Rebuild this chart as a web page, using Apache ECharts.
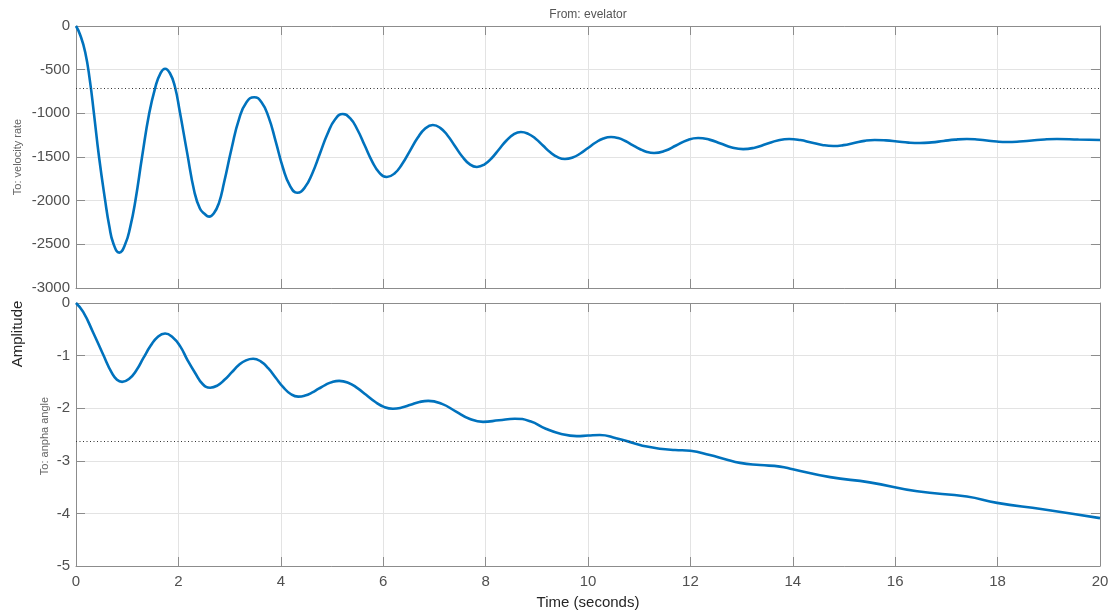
<!DOCTYPE html>
<html>
<head>
<meta charset="utf-8">
<script src="https://cdn.jsdelivr.net/npm/echarts@6/dist/echarts.min.js"></script>
<style>
  html, body {margin: 0; padding: 0; background: #fff;}
  #chart {width: 1113px; height: 613px;}
</style>
</head>
<body>
<div id="chart"></div>
<script>
// step response, input "evelator"
var velocity_rate = [
    [0, 0], [0.08, -100], [0.18, -300], [0.27, -620], [0.35, -1000], [0.45, -1500],
    [0.57, -2000], [0.65, -2290], [0.73, -2490], [0.845, -2595],
    [0.96, -2500], [1.06, -2300], [1.16, -2000], [1.29, -1500], [1.43, -1000], [1.55, -700],
    [1.645, -548], [1.74, -490],
    [1.835, -541], [1.93, -690], [2.027, -980], [2.17, -1450], [2.313, -1900], [2.42, -2090],
    [2.51, -2150], [2.6, -2183],
    [2.69, -2147], [2.79, -2030], [2.893, -1790], [3.04, -1400], [3.187, -1060], [3.333, -870], [3.48, -815],
    [3.62, -870], [3.76, -1040], [3.9, -1320], [4.04, -1620], [4.18, -1830], [4.32, -1910],
    [4.468, -1850], [4.617, -1685], [4.765, -1459], [4.913, -1234], [5.062, -1068], [5.21, -1008],
    [5.353, -1056], [5.497, -1188], [5.64, -1369], [5.783, -1549], [5.927, -1681], [6.07, -1729],
    [6.22, -1689], [6.37, -1580], [6.52, -1432], [6.67, -1283], [6.82, -1174], [6.97, -1134],
    [7.113, -1166], [7.257, -1254], [7.4, -1374], [7.543, -1494], [7.687, -1582], [7.83, -1614],
    [7.973, -1587], [8.117, -1514], [8.26, -1414], [8.403, -1314], [8.547, -1241], [8.69, -1214],
    [8.833, -1235], [8.977, -1291], [9.12, -1369], [9.263, -1446], [9.407, -1502], [9.55, -1523],
    [9.7, -1506], [9.85, -1460], [10.0, -1397], [10.15, -1334], [10.3, -1288], [10.45, -1271],
    [10.59, -1283], [10.73, -1317], [10.87, -1363], [11.01, -1408], [11.15, -1442], [11.29, -1454],
    [11.505, -1429], [11.72, -1368], [11.935, -1307], [12.15, -1282],
    [12.37, -1301], [12.59, -1346], [12.81, -1391], [13.03, -1410],
    [13.255, -1393], [13.48, -1352], [13.705, -1311], [13.93, -1294],
    [14.145, -1306], [14.36, -1334], [14.575, -1362], [14.79, -1374],
    [14.99, -1364], [15.195, -1340], [15.4, -1315], [15.6, -1305],
    [15.82, -1310], [16.04, -1322], [16.26, -1335], [16.48, -1340],
    [16.71, -1333], [16.94, -1317], [17.17, -1301], [17.4, -1294],
    [17.595, -1299], [17.79, -1311], [17.985, -1323], [18.18, -1328],
    [18.425, -1323], [18.67, -1311], [18.915, -1299], [19.16, -1294],
    [19.58, -1300], [20, -1305]
];
var anpha_angle = [
    [0, 0], [0.14, -0.17], [0.33, -0.55], [0.53, -0.98], [0.7, -1.33], [0.8, -1.46], [0.9, -1.5],
    [1.04, -1.44], [1.18, -1.28], [1.32, -1.04], [1.46, -0.81], [1.6, -0.64], [1.74, -0.58],
    [1.887, -0.65], [2.033, -0.82], [2.18, -1.09], [2.327, -1.33], [2.473, -1.54], [2.62, -1.61],
    [2.76, -1.57], [2.9, -1.46], [3.04, -1.32], [3.18, -1.18], [3.32, -1.09], [3.46, -1.06],
    [3.607, -1.11], [3.753, -1.24], [3.9, -1.42], [4.047, -1.6], [4.193, -1.73], [4.34, -1.78],
    [4.473, -1.76], [4.607, -1.705], [4.74, -1.63], [4.873, -1.555], [5.007, -1.5], [5.14, -1.48],
    [5.315, -1.515], [5.49, -1.613], [5.665, -1.745], [5.84, -1.878], [6.015, -1.975], [6.19, -2.01],
    [6.363, -1.988], [6.535, -1.935], [6.708, -1.882], [6.88, -1.86],
    [7.148, -1.918], [7.415, -2.06], [7.683, -2.2], [7.95, -2.26], [8.26, -2.23], [8.57, -2.2],
    [8.873, -2.25], [9.175, -2.39], [9.478, -2.49], [9.78, -2.53], [10.0, -2.52], [10.23, -2.51],
    [10.55, -2.57], [10.88, -2.66], [11.15, -2.73], [11.4, -2.77], [11.7, -2.795], [12.0, -2.81],
    [12.38, -2.89], [12.68, -2.97], [12.97, -3.04], [13.36, -3.08], [13.75, -3.11], [14.0, -3.16],
    [14.73, -3.31], [15.5, -3.41], [16.43, -3.58], [17.4, -3.68], [17.99, -3.8],
    [18.88, -3.92], [20, -4.09]
];
var velocity_final = -715;
var anpha_final = -2.62;
var time_range = [0, 20, 2];
var velocity_range = [-3000, 0, 500];
var anpha_range = [-5, 0, 1];

var axis_grey = '#8c8c8c';
var label_grey = '#505050';
var font = 'Liberation Sans, Arial, sans-serif';

function x_axis(grid, pos, labels) {
    return {
        type: 'value', gridIndex: grid, position: pos,
        min: time_range[0], max: time_range[1], interval: time_range[2],
        axisLine: {show: true, onZero: false, lineStyle: {color: axis_grey}},
        axisTick: {show: true, inside: true, length: 9, lineStyle: {color: axis_grey}},
        axisLabel: {show: labels, color: label_grey, fontSize: 15, fontFamily: font, margin: 8,
                    formatter: (v) => String(v)},
        splitLine: {show: pos === 'bottom', lineStyle: {color: '#e3e3e3'}},
    };
}
function y_axis(grid, pos, range, labels) {
    return {
        type: 'value', gridIndex: grid, position: pos,
        min: range[0], max: range[1], interval: range[2],
        axisLine: {show: true, onZero: false, lineStyle: {color: axis_grey}},
        axisTick: {show: true, inside: true, length: 9, lineStyle: {color: axis_grey}},
        axisLabel: {show: labels, color: label_grey, fontSize: 15, fontFamily: font, margin: 6,
                    formatter: (v) => String(v)},
        splitLine: {show: pos === 'left', lineStyle: {color: '#e3e3e3'}},
    };
}
function curve(data, xi, yi, level) {
    return {
        type: 'line', data: data, xAxisIndex: xi, yAxisIndex: yi,
        smooth: 0.5, symbol: 'none',
        lineStyle: {color: '#0072BD', width: 2.6},
        markLine: {
            silent: true, symbol: 'none', label: {show: false},
            lineStyle: {color: '#333', type: [1, 2.5], width: 1},
            data: [{yAxis: level}],
        },
    };
}

var chart = echarts.init(document.getElementById('chart'), null, {renderer: 'canvas'});
chart.setOption({
    animation: false,
    textStyle: {fontFamily: font},
    grid: [
        {left: 76, right: 13, top: 26, height: 262},
        {left: 76, right: 13, top: 303, height: 263},
    ],
    xAxis: [
        x_axis(0, 'bottom', false), x_axis(0, 'top', false),
        x_axis(1, 'bottom', true), x_axis(1, 'top', false),
    ],
    yAxis: [
        y_axis(0, 'left', velocity_range, true), y_axis(0, 'right', velocity_range, false),
        y_axis(1, 'left', anpha_range, true), y_axis(1, 'right', anpha_range, false),
    ],
    series: [
        curve(velocity_rate, 0, 0, velocity_final),
        curve(anpha_angle, 2, 2, anpha_final),
    ],
    graphic: [
        {type: 'text', x: 588, y: 15, style: {text: 'From: evelator', fill: '#555', font: '12px ' + font, textAlign: 'center', textVerticalAlign: 'middle'}},
        {type: 'text', x: 18, y: 157, rotation: Math.PI / 2, style: {text: 'To: velocity rate', fill: '#666', font: '11px ' + font, textAlign: 'center', textVerticalAlign: 'middle'}},
        {type: 'text', x: 45, y: 436, rotation: Math.PI / 2, style: {text: 'To: anpha angle', fill: '#666', font: '11px ' + font, textAlign: 'center', textVerticalAlign: 'middle'}},
        {type: 'text', x: 18, y: 334, rotation: Math.PI / 2, style: {text: 'Amplitude', fill: '#262626', font: '15px ' + font, textAlign: 'center', textVerticalAlign: 'middle'}},
        {type: 'text', x: 588, y: 603, style: {text: 'Time (seconds)', fill: '#262626', font: '15px ' + font, textAlign: 'center', textVerticalAlign: 'middle'}},
    ],
});
</script>
</body>
</html>
